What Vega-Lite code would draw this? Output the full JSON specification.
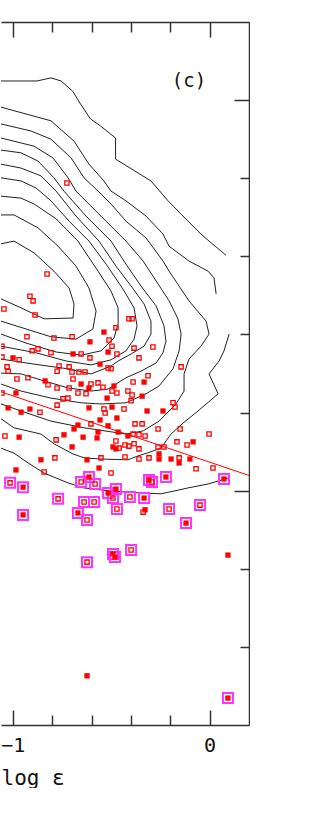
{
"$schema": "https://vega.github.io/schema/vega-lite/v6.json",
"width": 248, "height": 703,
"padding": {"left": 0, "top": 21, "right": 0, "bottom": 0},
"background": "white",
"config": {"view": {"stroke": null}, "font": "DejaVu Sans Mono"},
"datasets": {
"contours": [
{"c":"1a","o":1,"x":-1.06,"y":1.049},{"c":"1a","o":2,"x":-0.877,"y":1.049},{"c":"1a","o":3,"x":-0.806,"y":1.057},{"c":"1a","o":4,"x":-0.755,"y":1.049},{"c":"1a","o":5,"x":-0.696,"y":1.023},{"c":"1a","o":6,"x":-0.656,"y":0.99},{"c":"1a","o":7,"x":-0.606,"y":0.952},{"c":"1a","o":8,"x":-0.555,"y":0.934},{"c":"1a","o":9,"x":-0.478,"y":0.903},{"c":"1a","o":10,"x":-0.478,"y":0.849},{"c":"1a","o":11,"x":-0.298,"y":0.793},{"c":"1a","o":12,"x":-0.211,"y":0.742},{"c":"1a","o":13,"x":-0.145,"y":0.708},{"c":"1a","o":14,"x":-0.044,"y":0.657},{"c":"1a","o":15,"x":-0.003,"y":0.639},{"c":"1a","o":16,"x":0.083,"y":0.603},
{"c":"1b","o":1,"x":-1.06,"y":0.109},{"c":"1b","o":2,"x":-0.994,"y":0.096},{"c":"1b","o":3,"x":-0.922,"y":0.071},{"c":"1b","o":4,"x":-0.841,"y":0.045},{"c":"1b","o":5,"x":-0.72,"y":0.02},{"c":"1b","o":6,"x":-0.639,"y":0.007},{"c":"1b","o":7,"x":-0.501,"y":-0.001},{"c":"1b","o":8,"x":-0.349,"y":-0.006},{"c":"1b","o":9,"x":-0.247,"y":-0.008},{"c":"1b","o":10,"x":-0.181,"y":-0.001},{"c":"1b","o":11,"x":-0.11,"y":0.007},{"c":"1b","o":12,"x":-0.008,"y":0.017},{"c":"1b","o":13,"x":0.099,"y":0.033},
{"c":"2a","o":1,"x":-1.06,"y":0.982},{"c":"2a","o":2,"x":-0.806,"y":0.947},{"c":"2a","o":3,"x":-0.689,"y":0.895},{"c":"2a","o":4,"x":-0.613,"y":0.836},{"c":"2a","o":5,"x":-0.537,"y":0.793},{"c":"2a","o":6,"x":-0.501,"y":0.767},{"c":"2a","o":7,"x":-0.425,"y":0.742},{"c":"2a","o":8,"x":-0.323,"y":0.703},{"c":"2a","o":9,"x":-0.237,"y":0.657},{"c":"2a","o":10,"x":-0.206,"y":0.626},{"c":"2a","o":11,"x":-0.105,"y":0.588},{"c":"2a","o":12,"x":-0.008,"y":0.562},{"c":"2a","o":13,"x":0.022,"y":0.545},{"c":"2a","o":14,"x":0.033,"y":0.504},
{"c":"2b","o":1,"x":0.099,"y":0.401},{"c":"2b","o":2,"x":0.073,"y":0.358},{"c":"2b","o":3,"x":0.048,"y":0.332},{"c":"2b","o":4,"x":-0.003,"y":0.299},{"c":"2b","o":5,"x":0.043,"y":0.248},{"c":"2b","o":6,"x":-0.059,"y":0.204},{"c":"2b","o":7,"x":-0.135,"y":0.173},{"c":"2b","o":8,"x":-0.196,"y":0.145},{"c":"2b","o":9,"x":-0.222,"y":0.127},{"c":"2b","o":10,"x":-0.247,"y":0.109},{"c":"2b","o":11,"x":-0.313,"y":0.097},{"c":"2b","o":12,"x":-0.364,"y":0.089},{"c":"2b","o":13,"x":-0.415,"y":0.079},{"c":"2b","o":14,"x":-0.552,"y":0.081},{"c":"2b","o":15,"x":-0.638,"y":0.084},{"c":"2b","o":16,"x":-0.694,"y":0.094},{"c":"2b","o":17,"x":-0.791,"y":0.12},{"c":"2b","o":18,"x":-0.857,"y":0.145},{"c":"2b","o":19,"x":-0.994,"y":0.161},{"c":"2b","o":20,"x":-1.06,"y":0.184},
{"c":"3","o":1,"x":-1.06,"y":0.939},{"c":"3","o":2,"x":-0.908,"y":0.921},{"c":"3","o":3,"x":-0.806,"y":0.9},{"c":"3","o":4,"x":-0.704,"y":0.852},{"c":"3","o":5,"x":-0.638,"y":0.801},{"c":"3","o":6,"x":-0.567,"y":0.767},{"c":"3","o":7,"x":-0.501,"y":0.734},{"c":"3","o":8,"x":-0.425,"y":0.69},{"c":"3","o":9,"x":-0.323,"y":0.647},{"c":"3","o":10,"x":-0.237,"y":0.588},{"c":"3","o":11,"x":-0.206,"y":0.562},{"c":"3","o":12,"x":-0.105,"y":0.486},{"c":"3","o":13,"x":-0.018,"y":0.434},{"c":"3","o":14,"x":-0.003,"y":0.401},{"c":"3","o":15,"x":-0.044,"y":0.37},{"c":"3","o":16,"x":-0.105,"y":0.337},{"c":"3","o":17,"x":-0.13,"y":0.299},{"c":"3","o":18,"x":-0.13,"y":0.255},{"c":"3","o":19,"x":-0.171,"y":0.222},{"c":"3","o":20,"x":-0.257,"y":0.178},{"c":"3","o":21,"x":-0.338,"y":0.153},{"c":"3","o":22,"x":-0.425,"y":0.145},{"c":"3","o":23,"x":-0.638,"y":0.161},{"c":"3","o":24,"x":-0.806,"y":0.178},{"c":"3","o":25,"x":-0.958,"y":0.204},{"c":"3","o":26,"x":-1.06,"y":0.222},
{"c":"4","o":1,"x":-1.06,"y":0.903},{"c":"4","o":2,"x":-0.892,"y":0.882},{"c":"4","o":3,"x":-0.796,"y":0.852},{"c":"4","o":4,"x":-0.719,"y":0.801},{"c":"4","o":5,"x":-0.679,"y":0.767},{"c":"4","o":6,"x":-0.552,"y":0.703},{"c":"4","o":7,"x":-0.425,"y":0.639},{"c":"4","o":8,"x":-0.338,"y":0.588},{"c":"4","o":9,"x":-0.272,"y":0.537},{"c":"4","o":10,"x":-0.206,"y":0.486},{"c":"4","o":11,"x":-0.161,"y":0.44},{"c":"4","o":12,"x":-0.145,"y":0.401},{"c":"4","o":13,"x":-0.155,"y":0.358},{"c":"4","o":14,"x":-0.186,"y":0.312},{"c":"4","o":15,"x":-0.257,"y":0.268},{"c":"4","o":16,"x":-0.323,"y":0.248},{"c":"4","o":17,"x":-0.425,"y":0.225},{"c":"4","o":18,"x":-0.552,"y":0.222},{"c":"4","o":19,"x":-0.653,"y":0.225},{"c":"4","o":20,"x":-0.806,"y":0.237},{"c":"4","o":21,"x":-0.958,"y":0.255},{"c":"4","o":22,"x":-1.06,"y":0.273},
{"c":"5","o":1,"x":-1.06,"y":0.872},{"c":"5","o":2,"x":-0.958,"y":0.865},{"c":"5","o":3,"x":-0.872,"y":0.844},{"c":"5","o":4,"x":-0.791,"y":0.801},{"c":"5","o":5,"x":-0.74,"y":0.767},{"c":"5","o":6,"x":-0.628,"y":0.703},{"c":"5","o":7,"x":-0.501,"y":0.639},{"c":"5","o":8,"x":-0.425,"y":0.58},{"c":"5","o":9,"x":-0.349,"y":0.524},{"c":"5","o":10,"x":-0.272,"y":0.473},{"c":"5","o":11,"x":-0.232,"y":0.422},{"c":"5","o":12,"x":-0.222,"y":0.383},{"c":"5","o":13,"x":-0.237,"y":0.353},{"c":"5","o":14,"x":-0.272,"y":0.327},{"c":"5","o":15,"x":-0.349,"y":0.306},{"c":"5","o":16,"x":-0.425,"y":0.289},{"c":"5","o":17,"x":-0.516,"y":0.26},{"c":"5","o":18,"x":-0.602,"y":0.255},{"c":"5","o":19,"x":-0.719,"y":0.263},{"c":"5","o":20,"x":-0.841,"y":0.281},{"c":"5","o":21,"x":-0.958,"y":0.299},{"c":"5","o":22,"x":-1.06,"y":0.301},
{"c":"6","o":1,"x":-1.06,"y":0.836},{"c":"6","o":2,"x":-0.958,"y":0.826},{"c":"6","o":3,"x":-0.857,"y":0.806},{"c":"6","o":4,"x":-0.78,"y":0.767},{"c":"6","o":5,"x":-0.679,"y":0.703},{"c":"6","o":6,"x":-0.562,"y":0.639},{"c":"6","o":7,"x":-0.476,"y":0.575},{"c":"6","o":8,"x":-0.399,"y":0.524},{"c":"6","o":9,"x":-0.333,"y":0.478},{"c":"6","o":10,"x":-0.298,"y":0.434},{"c":"6","o":11,"x":-0.298,"y":0.401},{"c":"6","o":12,"x":-0.333,"y":0.37},{"c":"6","o":13,"x":-0.399,"y":0.35},{"c":"6","o":14,"x":-0.465,"y":0.332},{"c":"6","o":15,"x":-0.501,"y":0.319},{"c":"6","o":16,"x":-0.602,"y":0.299},{"c":"6","o":17,"x":-0.719,"y":0.312},{"c":"6","o":18,"x":-0.892,"y":0.324},{"c":"6","o":19,"x":-1.06,"y":0.337},
{"c":"7","o":1,"x":-1.06,"y":0.801},{"c":"7","o":2,"x":-0.958,"y":0.793},{"c":"7","o":3,"x":-0.882,"y":0.775},{"c":"7","o":4,"x":-0.806,"y":0.742},{"c":"7","o":5,"x":-0.714,"y":0.69},{"c":"7","o":6,"x":-0.613,"y":0.639},{"c":"7","o":7,"x":-0.526,"y":0.58},{"c":"7","o":8,"x":-0.44,"y":0.516},{"c":"7","o":9,"x":-0.384,"y":0.468},{"c":"7","o":10,"x":-0.369,"y":0.422},{"c":"7","o":11,"x":-0.384,"y":0.388},{"c":"7","o":12,"x":-0.425,"y":0.358},{"c":"7","o":13,"x":-0.501,"y":0.335},{"c":"7","o":14,"x":-0.602,"y":0.322},{"c":"7","o":15,"x":-0.729,"y":0.332},{"c":"7","o":16,"x":-0.882,"y":0.353},{"c":"7","o":17,"x":-1.06,"y":0.37},
{"c":"8","o":1,"x":-1.06,"y":0.754},{"c":"8","o":2,"x":-0.958,"y":0.749},{"c":"8","o":3,"x":-0.892,"y":0.734},{"c":"8","o":4,"x":-0.78,"y":0.696},{"c":"8","o":5,"x":-0.669,"y":0.639},{"c":"8","o":6,"x":-0.567,"y":0.562},{"c":"8","o":7,"x":-0.501,"y":0.511},{"c":"8","o":8,"x":-0.465,"y":0.468},{"c":"8","o":9,"x":-0.465,"y":0.427},{"c":"8","o":10,"x":-0.486,"y":0.391},{"c":"8","o":11,"x":-0.552,"y":0.358},{"c":"8","o":12,"x":-0.653,"y":0.347},{"c":"8","o":13,"x":-0.78,"y":0.355},{"c":"8","o":14,"x":-0.933,"y":0.378},{"c":"8","o":15,"x":-1.06,"y":0.401},
{"c":"9","o":1,"x":-1.06,"y":0.706},{"c":"9","o":2,"x":-0.994,"y":0.706},{"c":"9","o":3,"x":-0.872,"y":0.673},{"c":"9","o":4,"x":-0.77,"y":0.626},{"c":"9","o":5,"x":-0.679,"y":0.575},{"c":"9","o":6,"x":-0.613,"y":0.519},{"c":"9","o":7,"x":-0.577,"y":0.46},{"c":"9","o":8,"x":-0.593,"y":0.414},{"c":"9","o":9,"x":-0.679,"y":0.388},{"c":"9","o":10,"x":-0.806,"y":0.394},{"c":"9","o":11,"x":-0.933,"y":0.414},{"c":"9","o":12,"x":-1.06,"y":0.434},
{"c":"10","o":1,"x":-1.06,"y":0.632},{"c":"10","o":2,"x":-0.994,"y":0.639},{"c":"10","o":3,"x":-0.892,"y":0.609},{"c":"10","o":4,"x":-0.791,"y":0.562},{"c":"10","o":5,"x":-0.714,"y":0.519},{"c":"10","o":6,"x":-0.689,"y":0.478},{"c":"10","o":7,"x":-0.694,"y":0.442},{"c":"10","o":8,"x":-0.841,"y":0.44},{"c":"10","o":9,"x":-0.958,"y":0.468},{"c":"10","o":10,"x":-1.06,"y":0.491}
],
"fit": [{"x":-1.06,"y":0.253},{"x":0.2,"y":0.039}],
"label": [{"x":-0.105,"y":1.049,"t":"(c)"}],
"pts": [
{"x":-0.725,"y":0.788,"k":"o","r":0},{"x":-0.826,"y":0.555,"k":"o","r":0},{"x":-0.913,"y":0.498,"k":"o","r":0},{"x":-0.897,"y":0.486,"k":"o","r":0},{"x":-1.045,"y":0.465,"k":"o","r":0},{"x":-0.887,"y":0.45,"k":"o","r":0},{"x":-0.41,"y":0.44,"k":"o","r":0},{"x":-0.394,"y":0.44,"k":"o","r":0},{"x":-0.476,"y":0.417,"k":"o","r":0},{"x":-0.928,"y":0.394,"k":"o","r":0},{"x":-0.791,"y":0.391,"k":"o","r":0},{"x":-0.699,"y":0.394,"k":"o","r":0},{"x":-0.511,"y":0.386,"k":"o","r":0},{"x":-0.496,"y":0.37,"k":"o","r":0},{"x":-0.872,"y":0.363,"k":"o","r":0},{"x":-0.902,"y":0.358,"k":"o","r":0},{"x":-0.806,"y":0.353,"k":"o","r":0},{"x":-0.653,"y":0.35,"k":"o","r":0},{"x":-0.608,"y":0.34,"k":"o","r":0},{"x":-0.471,"y":0.35,"k":"o","r":0},{"x":-0.384,"y":0.365,"k":"o","r":0},{"x":-0.288,"y":0.368,"k":"o","r":0},{"x":-1.055,"y":0.37,"k":"o","r":0},{"x":-1.055,"y":0.342,"k":"o","r":0},{"x":-0.968,"y":0.335,"k":"o","r":0},{"x":-0.359,"y":0.34,"k":"o","r":0},{"x":-1.029,"y":0.317,"k":"o","r":0},{"x":-1.024,"y":0.306,"k":"o","r":0},{"x":-0.765,"y":0.319,"k":"o","r":0},{"x":-0.714,"y":0.317,"k":"o","r":0},{"x":-0.775,"y":0.306,"k":"o","r":0},{"x":-0.699,"y":0.304,"k":"o","r":0},{"x":-0.664,"y":0.304,"k":"o","r":0},{"x":-0.633,"y":0.304,"k":"o","r":0},{"x":-0.516,"y":0.314,"k":"o","r":0},{"x":-0.501,"y":0.312,"k":"o","r":0},{"x":-0.979,"y":0.286,"k":"o","r":0},{"x":-0.923,"y":0.289,"k":"o","r":0},{"x":-0.694,"y":0.286,"k":"o","r":0},{"x":-0.821,"y":0.271,"k":"o","r":0},{"x":-0.775,"y":0.263,"k":"o","r":0},{"x":-0.714,"y":0.263,"k":"o","r":0},{"x":-0.603,"y":0.273,"k":"o","r":0},{"x":-0.567,"y":0.276,"k":"o","r":0},{"x":-0.542,"y":0.265,"k":"o","r":0},{"x":-0.669,"y":0.25,"k":"o","r":0},{"x":-0.628,"y":0.248,"k":"o","r":0},{"x":-0.471,"y":0.25,"k":"o","r":0},{"x":-0.496,"y":0.255,"k":"o","r":0},{"x":-1.055,"y":0.25,"k":"o","r":0},{"x":-0.745,"y":0.235,"k":"o","r":0},{"x":-0.72,"y":0.237,"k":"o","r":0},{"x":-0.775,"y":0.219,"k":"o","r":0},{"x":-0.862,"y":0.201,"k":"o","r":0},{"x":-0.537,"y":0.209,"k":"o","r":0},{"x":-0.531,"y":0.199,"k":"o","r":0},{"x":-0.435,"y":0.209,"k":"o","r":0},{"x":-0.603,"y":0.171,"k":"o","r":0},{"x":-1.04,"y":0.14,"k":"o","r":0},{"x":-0.78,"y":0.13,"k":"o","r":0},{"x":-0.476,"y":0.127,"k":"o","r":0},{"x":-0.46,"y":0.109,"k":"o","r":0},{"x":-0.786,"y":0.084,"k":"o","r":0},{"x":-0.552,"y":0.084,"k":"o","r":0},{"x":-0.841,"y":0.048,"k":"o","r":0},{"x":-0.501,"y":0.045,"k":"o","r":0},{"x":-0.43,"y":0.117,"k":"o","r":0},{"x":-0.43,"y":0.086,"k":"o","r":0},{"x":-0.145,"y":0.317,"k":"o","r":0},{"x":-0.313,"y":0.294,"k":"o","r":0},{"x":-0.389,"y":0.278,"k":"o","r":0},{"x":-0.415,"y":0.255,"k":"o","r":0},{"x":-0.394,"y":0.245,"k":"o","r":0},{"x":-0.399,"y":0.23,"k":"o","r":0},{"x":-0.186,"y":0.225,"k":"o","r":0},{"x":-0.176,"y":0.214,"k":"o","r":0},{"x":-0.262,"y":0.158,"k":"o","r":0},{"x":-0.15,"y":0.158,"k":"o","r":0},{"x":-0.003,"y":0.145,"k":"o","r":0},{"x":-0.379,"y":0.171,"k":"o","r":0},{"x":-0.343,"y":0.171,"k":"o","r":0},{"x":-0.389,"y":0.145,"k":"o","r":0},{"x":-0.359,"y":0.143,"k":"o","r":0},{"x":-0.328,"y":0.14,"k":"o","r":0},{"x":-0.166,"y":0.125,"k":"o","r":0},{"x":-0.115,"y":0.117,"k":"o","r":0},{"x":-0.41,"y":0.114,"k":"o","r":0},{"x":-0.384,"y":0.12,"k":"o","r":0},{"x":-0.359,"y":0.107,"k":"o","r":0},{"x":-0.262,"y":0.112,"k":"o","r":0},{"x":-0.232,"y":0.112,"k":"o","r":0},{"x":-0.359,"y":0.081,"k":"o","r":0},{"x":-0.308,"y":0.084,"k":"o","r":0},{"x":-0.155,"y":0.084,"k":"o","r":0},{"x":-0.069,"y":0.056,"k":"o","r":0},{"x":0.017,"y":0.058,"k":"o","r":0},{"x":-0.338,"y":-0.055,"k":"o","r":0},
{"x":-0.537,"y":0.406,"k":"f","r":0},{"x":-0.608,"y":0.381,"k":"f","r":0},{"x":-0.516,"y":0.355,"k":"f","r":0},{"x":-0.694,"y":0.35,"k":"f","r":0},{"x":-0.999,"y":0.34,"k":"f","r":0},{"x":-0.557,"y":0.324,"k":"f","r":0},{"x":-0.836,"y":0.281,"k":"f","r":0},{"x":-0.653,"y":0.273,"k":"f","r":0},{"x":-0.613,"y":0.263,"k":"f","r":0},{"x":-0.486,"y":0.268,"k":"f","r":0},{"x":-0.333,"y":0.278,"k":"f","r":0},{"x":-0.984,"y":0.25,"k":"f","r":0},{"x":-0.521,"y":0.237,"k":"f","r":0},{"x":-0.343,"y":0.242,"k":"f","r":0},{"x":-1.024,"y":0.212,"k":"f","r":0},{"x":-0.958,"y":0.201,"k":"f","r":0},{"x":-0.913,"y":0.209,"k":"f","r":0},{"x":-0.613,"y":0.212,"k":"f","r":0},{"x":-0.496,"y":0.214,"k":"f","r":0},{"x":-0.471,"y":0.186,"k":"f","r":0},{"x":-0.557,"y":0.181,"k":"f","r":0},{"x":-0.516,"y":0.166,"k":"f","r":0},{"x":-0.669,"y":0.168,"k":"f","r":0},{"x":-0.689,"y":0.158,"k":"f","r":0},{"x":-0.74,"y":0.143,"k":"f","r":0},{"x":-0.643,"y":0.137,"k":"f","r":0},{"x":-0.572,"y":0.135,"k":"f","r":0},{"x":-0.567,"y":0.15,"k":"f","r":0},{"x":-0.465,"y":0.15,"k":"f","r":0},{"x":-0.968,"y":0.137,"k":"f","r":0},{"x":-0.699,"y":0.112,"k":"f","r":0},{"x":-0.491,"y":0.112,"k":"f","r":0},{"x":-0.476,"y":0.107,"k":"f","r":0},{"x":-0.857,"y":0.079,"k":"f","r":0},{"x":-0.623,"y":0.079,"k":"f","r":0},{"x":-0.562,"y":0.058,"k":"f","r":0},{"x":-0.984,"y":0.053,"k":"f","r":0},{"x":-0.318,"y":0.204,"k":"f","r":0},{"x":-0.237,"y":0.204,"k":"f","r":0},{"x":-0.084,"y":0.125,"k":"f","r":0},{"x":-0.415,"y":0.14,"k":"f","r":0},{"x":-0.257,"y":0.094,"k":"f","r":0},{"x":-0.257,"y":0.081,"k":"f","r":0},{"x":-0.196,"y":0.081,"k":"f","r":0},{"x":-0.155,"y":0.071,"k":"f","r":0},{"x":-0.1,"y":0.081,"k":"f","r":0},{"x":-0.328,"y":-0.049,"k":"f","r":0},{"x":0.093,"y":-0.165,"k":"f","r":0},{"x":-0.623,"y":-0.474,"k":"f","r":0},
{"x":-1.014,"y":0.02,"k":"o","r":1},{"x":-0.948,"y":0.009,"k":"f","r":1},{"x":-0.77,"y":-0.021,"k":"o","r":1},{"x":-0.948,"y":-0.062,"k":"f","r":1},{"x":-0.653,"y":0.022,"k":"o","r":1},{"x":-0.613,"y":0.035,"k":"f","r":1},{"x":-0.582,"y":0.017,"k":"o","r":1},{"x":-0.638,"y":-0.029,"k":"o","r":1},{"x":-0.587,"y":-0.029,"k":"o","r":1},{"x":-0.669,"y":-0.057,"k":"f","r":1},{"x":-0.623,"y":-0.075,"k":"o","r":1},{"x":-0.516,"y":-0.006,"k":"f","r":1},{"x":-0.476,"y":0.004,"k":"f","r":1},{"x":-0.491,"y":-0.019,"k":"o","r":1},{"x":-0.471,"y":-0.047,"k":"o","r":1},{"x":-0.405,"y":-0.016,"k":"o","r":1},{"x":-0.333,"y":-0.019,"k":"f","r":1},{"x":-0.308,"y":0.027,"k":"f","r":1},{"x":-0.293,"y":0.022,"k":"o","r":1},{"x":-0.222,"y":0.035,"k":"f","r":1},{"x":-0.206,"y":-0.047,"k":"o","r":1},{"x":-0.049,"y":-0.037,"k":"o","r":1},{"x":-0.12,"y":-0.083,"k":"f","r":1},{"x":0.073,"y":0.03,"k":"f","r":1},{"x":-0.623,"y":-0.183,"k":"o","r":1},{"x":-0.491,"y":-0.162,"k":"f","r":1},{"x":-0.481,"y":-0.17,"k":"f","r":1},{"x":-0.399,"y":-0.152,"k":"o","r":1},{"x":0.093,"y":-0.531,"k":"f","r":1}
]
},
"layer": [
{
"data": {"name": "contours"},
"mark": {"type": "line", "stroke": "#222", "strokeWidth": 1, "clip": true},
"encoding": {
"x": {"field": "x", "type": "quantitative", "scale": {"domain": [-1.06, 0.2], "nice": false, "zero": false},
"axis": {"orient": "bottom", "values": [-1, -0.8, -0.6, -0.4, -0.2, 0], "grid": false, "tickSize": -15, "tickWidth": 1.5, "tickColor": "#333",
"tickDash": {"condition": {"test": "datum.value == 0 || datum.value == -1", "value": [20, 2]}, "value": [10, 30]},
"domainColor": "#333", "domainWidth": 1.5,
"labelExpr": "datum.value == 0 ? '0' : (datum.value == -1 ? '−1' : '')", "labelFont": "DejaVu Sans Mono", "labelFontSize": 20, "labelColor": "#111", "labelPadding": 25, "labelFlush": false, "labelOverlap": false,
"title": "log ε", "titleFont": "DejaVu Sans Mono", "titleFontSize": 21, "titleFontWeight": "normal", "titleColor": "#111", "titleAnchor": "start", "titleAlign": "left", "titleX": 0, "titleY": 59, "titleBaseline": "alphabetic"}},
"y": {"field": "y", "type": "quantitative", "scale": {"domain": [-0.6, 1.2], "nice": false, "zero": false},
"axis": {"orient": "right", "values": [-0.4, -0.2, 0, 0.2, 0.4, 0.6, 0.8, 1], "grid": false, "labels": false, "title": null, "tickSize": -15, "tickWidth": 1.5, "tickColor": "#333",
"tickDash": {"condition": {"test": "datum.value == 0 || datum.value == 1", "value": [20, 2]}, "value": [9, 30]},
"domainColor": "#333", "domainWidth": 1.5}},
"detail": {"field": "c"},
"order": {"field": "o", "type": "quantitative"}
}
},
{
"data": {"name": "fit"},
"mark": {"type": "line", "stroke": "#ff0000", "strokeWidth": 1, "clip": true},
"encoding": {
"x": {"field": "x", "type": "quantitative", "axis": null},
"y": {"field": "y", "type": "quantitative"}
}
},
{
"data": {"name": "pts"},
"transform": [{"filter": "datum.r == 1"}],
"mark": {"type": "point", "shape": "square", "size": 100, "filled": false, "stroke": "#ff33ff", "strokeWidth": 2, "opacity": 1, "clip": true},
"encoding": {
"x": {"field": "x", "type": "quantitative",
"axis": {"orient": "top", "values": [-1, -0.8, -0.6, -0.4, -0.2, 0], "grid": false, "labels": false, "title": null, "tickSize": -15, "tickWidth": 1.5, "tickColor": "#333",
"tickDash": {"condition": {"test": "datum.value == 0 || datum.value == -1", "value": [20, 2]}, "value": [10, 30]},
"domainColor": "#333", "domainWidth": 1.5}},
"y": {"field": "y", "type": "quantitative"}
}
},
{
"data": {"name": "pts"},
"transform": [{"filter": "datum.k == 'o'"}],
"mark": {"type": "point", "shape": "square", "size": 18, "filled": false, "stroke": "#ff0000", "strokeWidth": 1.3, "opacity": 1, "clip": true},
"encoding": {
"x": {"field": "x", "type": "quantitative", "axis": null},
"y": {"field": "y", "type": "quantitative"}
}
},
{
"data": {"name": "pts"},
"transform": [{"filter": "datum.k == 'f'"}],
"mark": {"type": "point", "shape": "square", "size": 28, "filled": true, "fill": "#ff0000", "strokeWidth": 0, "opacity": 1, "clip": true},
"encoding": {
"x": {"field": "x", "type": "quantitative", "axis": null},
"y": {"field": "y", "type": "quantitative"}
}
},
{
"data": {"name": "label"},
"mark": {"type": "text", "font": "DejaVu Sans Mono", "fontSize": 19, "fill": "#111", "align": "center", "baseline": "middle"},
"encoding": {
"x": {"field": "x", "type": "quantitative", "axis": null},
"y": {"field": "y", "type": "quantitative"},
"text": {"field": "t"}
}
}
],
"resolve": {"axis": {"x": "independent"}}
}
